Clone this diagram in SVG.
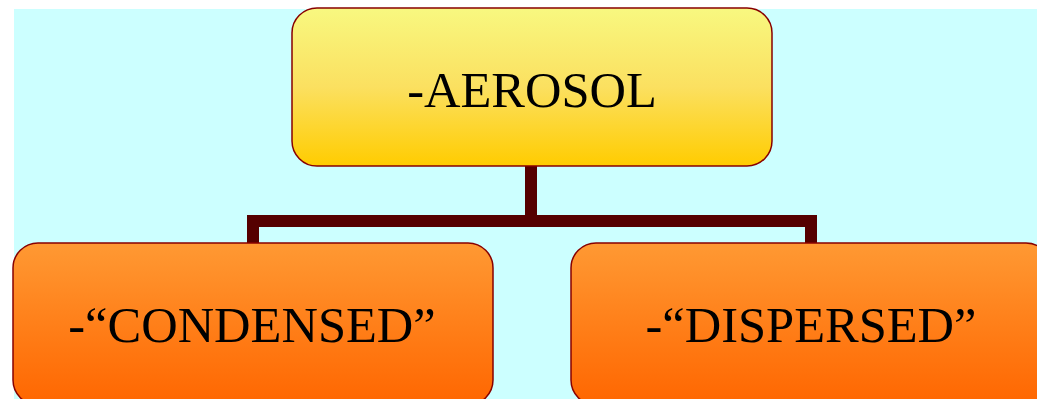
<svg xmlns="http://www.w3.org/2000/svg" width="1037" height="399" viewBox="0 0 1037 399">
<defs>
<linearGradient id="gTop" x1="0" y1="0" x2="0" y2="1">
<stop offset="0" stop-color="#F8F880"/>
<stop offset="0.5" stop-color="#FBE060"/>
<stop offset="1" stop-color="#FFCC00"/>
</linearGradient>
<linearGradient id="gBot" x1="0" y1="0" x2="0" y2="1">
<stop offset="0" stop-color="#FF9933"/>
<stop offset="1" stop-color="#FF6600"/>
</linearGradient>
<style>
.box{stroke:#880000;stroke-width:1.5}
.lbl{font-family:"Liberation Serif","Times New Roman",serif;font-size:50.5px;fill:#000;text-anchor:middle}
.conn{fill:none;stroke:#550000;stroke-width:12}
</style>
</defs>
<rect x="0" y="0" width="1037" height="399" fill="#ffffff"/>
<rect x="14" y="9" width="1023" height="390" fill="#CCFFFF"/>
<g id="connectors">
<path class="conn" d="M531 166 V221 M253 243 V221 H811 V243"/>
</g>
<g id="aerosol">
<rect class="box" x="292" y="8" width="480" height="158" rx="25" fill="url(#gTop)"/>
<text class="lbl" x="532" y="107">-AEROSOL</text>
</g>
<g id="condensed">
<rect class="box" x="13" y="243" width="480" height="162" rx="25" fill="url(#gBot)"/>
<text class="lbl" x="252" y="342">-“CONDENSED”</text>
</g>
<g id="dispersed">
<rect class="box" x="571" y="243" width="480" height="162" rx="25" fill="url(#gBot)"/>
<text class="lbl" x="811" y="342">-“DISPERSED”</text>
</g>
</svg>
